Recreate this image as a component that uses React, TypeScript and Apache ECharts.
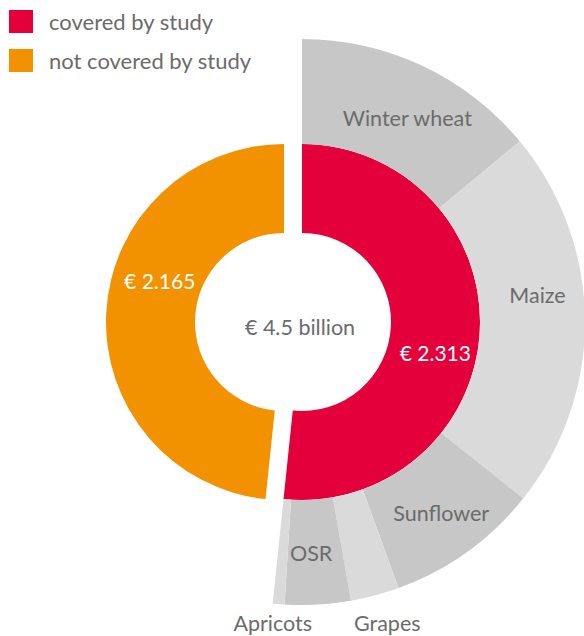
import React, { useEffect, useRef } from "react";
import * as echarts from "echarts";

// ---- data ----
const CATEGORIES = ["covered by study", "not covered by study"];
const CATEGORY_VALUES = [2.313, 2.165]; // € billion
const CROPS = ["Winter wheat", "Maize", "Sunflower", "Grapes", "OSR", "Apricots"];
const CROP_VALUES = [0.626, 0.973, 0.392, 0.124, 0.168, 0.03]; // € billion, covered part

// ---- styles ----
const RED = "#e4003a";
const ORANGE = "#f39200";
const GREY_DARK = "#c6c7c6";
const GREY_LIGHT = "#dadada";
const CROP_COLORS = [GREY_DARK, GREY_LIGHT, GREY_DARK, GREY_LIGHT, GREY_DARK, GREY_LIGHT];
const TEXT_GREY = "#6b6b6b";
const FONT = "Lato, 'Noto Sans', sans-serif";
const CROP_LABEL_SHIFT: Record<string, [number, number]> = {
  "Winter wheat": [6, 7],
  Maize: [2, -25],
  Sunflower: [3, 1],
  Grapes: [25, 75],
  OSR: [-4, -2],
  Apricots: [-10, 68],
};
const OUTSIDE_CROPS = ["Grapes", "Apricots"];
const VALUE_LABEL_SHIFT: [number, number][] = [
  [-3, 23],
  [12, -34],
];

const HIDDEN = { color: "rgba(0,0,0,0)", borderWidth: 0 };

export default function App() {
  const ref = useRef<HTMLDivElement>(null);
  useEffect(() => {
    document.body.style.margin = "0";
    const chart = echarts.init(ref.current!, null, { renderer: "svg" });
    const total = CATEGORY_VALUES.reduce((a, b) => a + b, 0);

    const innerSeries = (idx: number, center: [number, number], color: string) => ({
      type: "pie",
      silent: true,
      center,
      radius: [89, 178],
      startAngle: 90,
      clockwise: true,
      avoidLabelOverlap: false,
      labelLine: { show: false },
      emphasis: { disabled: true },
      itemStyle: { borderWidth: 0 },
      label: {
        show: true,
        position: "inside",
        color: "#ffffff",
        fontSize: 21,
        fontFamily: FONT,
        formatter: (p: any) => "€ " + p.value.toFixed(3),
      },
      labelLayout: () => ({ dx: VALUE_LABEL_SHIFT[idx][0], dy: VALUE_LABEL_SHIFT[idx][1] }),
      data: CATEGORY_VALUES.map((v, i) =>
        i === idx
          ? { name: CATEGORIES[i], value: v, itemStyle: { color, borderWidth: 0 } }
          : { name: "_rest" + idx, value: v, itemStyle: HIDDEN, label: { show: false } }
      ),
    });

    chart.setOption({
      animation: false,
      legend: {
        orient: "vertical",
        left: 9,
        top: 10,
        padding: 0,
        itemWidth: 24,
        itemHeight: 23,
        itemGap: 16,
        icon: "rect",
        selectedMode: false,
        data: CATEGORIES,
        textStyle: {
          color: TEXT_GREY,
          fontSize: 22,
          fontFamily: FONT,
          padding: [0, 0, 0, 11],
        },
      },
      graphic: [
        {
          type: "text",
          x: 300,
          y: 327,
          style: {
            text: "€ " + total.toFixed(1) + " billion",
            fill: TEXT_GREY,
            fontSize: 21.5,
            fontFamily: FONT,
            align: "center",
            verticalAlign: "middle",
          },
        },
      ],
      series: [
        innerSeries(0, [302, 322], RED),
        innerSeries(1, [284, 322], ORANGE),
        {
          type: "pie",
          silent: true,
          center: [302, 322],
          radius: [178, 283],
          startAngle: 90,
          clockwise: true,
          avoidLabelOverlap: false,
          labelLine: { show: false },
          emphasis: { disabled: true },
          itemStyle: { borderWidth: 0 },
          label: {
            show: true,
            position: "inside",
            color: TEXT_GREY,
            fontSize: 21.5,
            fontFamily: FONT,
            formatter: "{b}",
          },
          labelLayout: (p: any) => {
            const s = CROP_LABEL_SHIFT[CROPS[p.dataIndex]];
            return s ? { dx: s[0], dy: s[1] } : {};
          },
          data: [
            ...CROPS.map((c, i) => ({
              name: c,
              value: CROP_VALUES[i],
              itemStyle: { color: CROP_COLORS[i], borderWidth: 0 },
              ...(OUTSIDE_CROPS.includes(c) ? { label: { lineHeight: 18 } } : {}),
            })),
            { name: "_restOuter", value: CATEGORY_VALUES[1], itemStyle: HIDDEN, label: { show: false } },
          ],
        },
      ],
    });
    return () => chart.dispose();
  }, []);
  return <div ref={ref} style={{ width: 584, height: 636 }} />;
}
